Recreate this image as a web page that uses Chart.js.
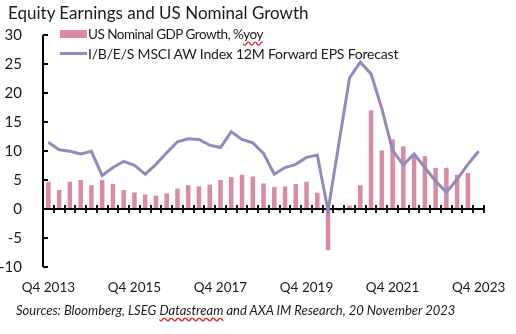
<!DOCTYPE html>
<html>
<head>
<meta charset="utf-8">
<script src="https://cdn.jsdelivr.net/npm/chart.js@4"></script>
<style>
  html, body { margin: 0; padding: 0; background: #fff; }
  body { width: 516px; height: 334px; position: relative; overflow: hidden; font-family: Lato, "Open Sans", sans-serif; color: #1a1a1a; }
  #wrap { position: absolute; left: 0; top: 0; width: 516px; height: 334px; }
  .title { position: absolute; left: 8px; top: 2px; font-size: 17px; white-space: nowrap; }
  .leg { position: absolute; left: 60px; font-size: 14px; letter-spacing: -0.2px; white-space: nowrap; }
  .leg .sw { position: absolute; left: 0; width: 27px; }
  .leg span.t { position: absolute; left: 28px; top: 0; }
  .wavy { text-decoration: underline wavy #d22; text-underline-offset: 2px; }
  .src { position: absolute; left: 16px; top: 302px; font-size: 13px; font-style: italic; white-space: nowrap; }
</style>
</head>
<body>
<div id="wrap"><canvas id="chart" width="516" height="334"></canvas></div>
<div class="title">Equity Earnings and US Nominal Growth</div>
<div class="leg" style="top:26px"><div class="sw" style="top:4px;height:8px;background:#d98aa4"></div><span class="t" style="font-size:13.5px;letter-spacing:-0.5px">US Nominal GDP Growth, %<span class="wavy">yoy</span></span></div>
<div class="leg" style="top:45px"><div class="sw" style="top:7px;height:3px;background:#8e8cba"></div><span class="t">I/B/E/S MSCI AW Index 12M Forward EPS Forecast</span></div>
<div class="src">Sources: Bloomberg, LSEG <span class="wavy">Datastream</span> and AXA IM Research, 20 November 2023</div>
<script>
const quarters = [
  'Q4 2013','Q1 2014','Q2 2014','Q3 2014','Q4 2014','Q1 2015','Q2 2015','Q3 2015',
  'Q4 2015','Q1 2016','Q2 2016','Q3 2016','Q4 2016','Q1 2017','Q2 2017','Q3 2017',
  'Q4 2017','Q1 2018','Q2 2018','Q3 2018','Q4 2018','Q1 2019','Q2 2019','Q3 2019',
  'Q4 2019','Q1 2020','Q2 2020','Q3 2020','Q4 2020','Q1 2021','Q2 2021','Q3 2021',
  'Q4 2021','Q1 2022','Q2 2022','Q3 2022','Q4 2022','Q1 2023','Q2 2023','Q3 2023',
  'Q4 2023'
];
// US nominal GDP growth, % yoy
const gdpGrowth = [4.7,3.3,4.7,5.0,4.1,5.0,4.3,3.3,2.85,2.5,2.3,2.7,3.5,4.1,3.9,4.2,
  5.0,5.5,5.9,5.6,4.4,3.8,3.9,4.3,4.7,2.8,-7.1,-0.3,0.6,4.1,17.0,10.1,12.0,10.8,9.1,9.1,
  7.1,7.1,5.9,6.2,null];
// I/B/E/S MSCI AW 12M forward EPS forecast
const epsForecast = [11.5,10.2,9.95,9.5,9.95,5.8,7.15,8.2,7.55,6.0,7.7,9.7,11.6,12.1,12.0,11.0,
  10.6,13.3,12.0,11.4,9.6,6.0,7.15,7.7,8.9,9.3,-0.3,11.2,22.6,25.3,23.3,17.3,10.1,7.6,9.5,7.15,
  4.8,2.9,5.1,7.7,9.95];
const yTicks = [30, 25, 20, 15, 10, 5, 0, -5, -10];
const labelEvery = 8;

// axis lines drawn Excel-style: y axis with inner ticks, x axis at zero with crossing ticks
const axesPlugin = {
  id: 'axes',
  afterDatasetDraw(chart, args) {
    if (args.meta.type !== 'bar') return;
    const ctx = chart.ctx, y = chart.scales.y, a = chart.chartArea;
    ctx.save();
    ctx.strokeStyle = '#000';
    ctx.lineWidth = 2;
    ctx.beginPath();
    ctx.moveTo(a.left, a.top); ctx.lineTo(a.left, a.bottom);
    yTicks.forEach(v => { const py = y.getPixelForValue(v); ctx.moveTo(a.left, py); ctx.lineTo(a.left + 5, py); });
    const y0 = y.getPixelForValue(0);
    ctx.moveTo(a.left, y0); ctx.lineTo(a.right, y0);
    ctx.stroke();
    ctx.lineWidth = 1.8;
    ctx.beginPath();
    const step = (a.right - a.left) / quarters.length;
    for (let i = 1; i <= quarters.length; i++) {
      const px = Math.round(a.left + i * step);
      ctx.moveTo(px, y0 - 4); ctx.lineTo(px, y0 + 4);
    }
    ctx.stroke();
    ctx.restore();
  }
};

new Chart(document.getElementById('chart'), {
  type: 'bar',
  data: {
    labels: quarters,
    datasets: [
      {
        type: 'line',
        label: 'I/B/E/S MSCI AW Index 12M Forward EPS Forecast',
        data: epsForecast,
        borderColor: '#8e8cba',
        borderWidth: 3,
        pointRadius: 0,
        tension: 0,
        order: 0
      },
      {
        label: 'US Nominal GDP Growth, %yoy',
        data: gdpGrowth,
        backgroundColor: '#d98aa4',
        barPercentage: 0.42,
        categoryPercentage: 1,
        order: 1
      }
    ]
  },
  options: {
    responsive: false,
    animation: false,
    layout: { padding: { left: 0, top: 35, right: 32, bottom: 31 } },
    plugins: { legend: { display: false }, tooltip: { enabled: false } },
    scales: {
      x: {
        offset: true,
        grid: { display: false },
        border: { display: false },
        afterFit: s => { s.height = 36; },
        ticks: {
          autoSkip: false, maxRotation: 0, padding: 5,
          color: '#1a1a1a', font: { family: 'Lato', size: 13.5 },
          callback: (v, i) => i % labelEvery === 0 ? quarters[i] : ''
        }
      },
      y: {
        min: -10, max: 30,
        grid: { display: false },
        border: { display: false },
        afterFit: s => { s.width = 43; },
        ticks: { stepSize: 5, padding: 13, color: '#1a1a1a', font: { family: 'Lato', size: 15 } }
      }
    }
  },
  plugins: [axesPlugin]
});
</script>
</body>
</html>
